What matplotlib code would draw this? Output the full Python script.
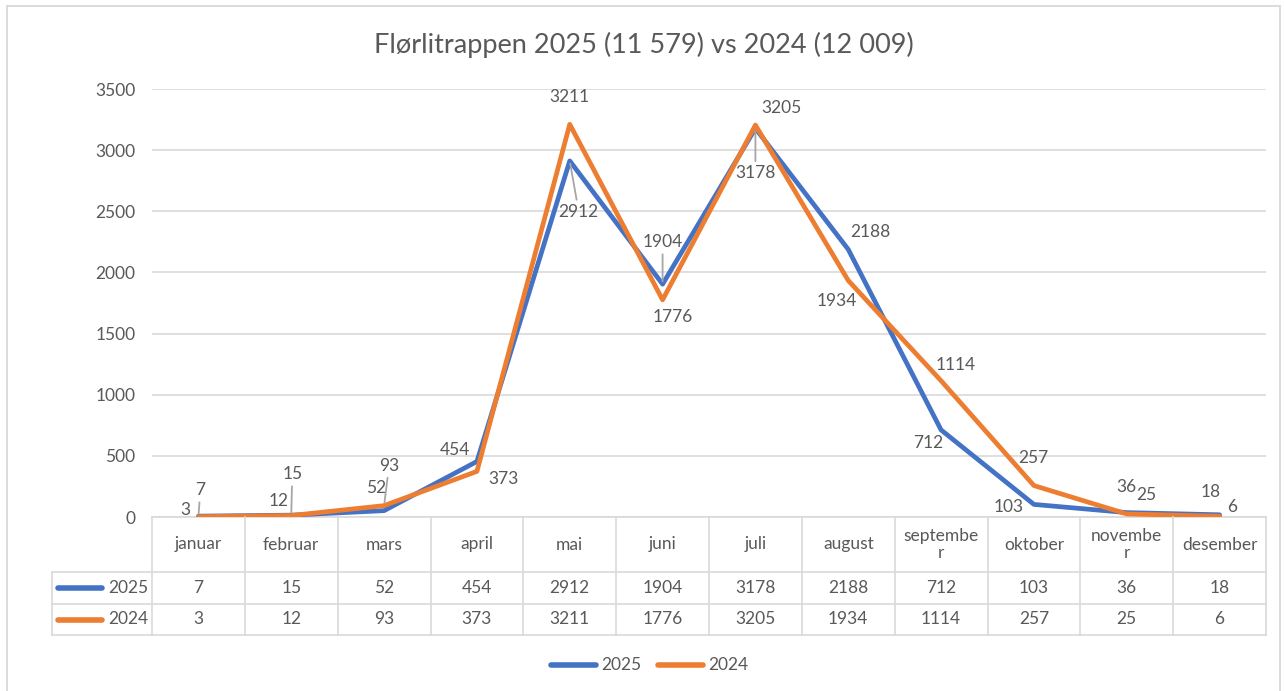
import matplotlib.pyplot as plt
from matplotlib.lines import Line2D

months = ["januar", "februar", "mars", "april", "mai", "juni", "juli",
          "august", "septembe\nr", "oktober", "novembe\nr", "desember"]
v2025 = [7, 15, 52, 454, 2912, 1904, 3178, 2188, 712, 103, 36, 18]
v2024 = [3, 12, 93, 373, 3211, 1776, 3205, 1934, 1114, 257, 25, 6]
title = "Flørlitrappen 2025 (11 579) vs 2024 (12 009)"

# label offsets in pixels (dx, dy up), and whether a leader line is drawn
off2025 = [(2, 26, True), (1, 41, True), (-8, 23, False), (-22, 11, False),
           (9, -51, True), (0, 42, True), (0, -45, True), (22, 17, False),
           (-13, -13, False), (-25, -3, False), (0, 26, False), (-9, 23, False)]
off2024 = [(-13, 7, False), (-13, 15, False), (5, 40, True), (27, -8, False),
           (0, 27, False), (10, -17, False), (26, 17, False), (-11, -21, False),
           (15, 16, False), (-1, 28, False), (20, 19, False), (13, 9, False)]

BLUE = "#4472C4"
ORANGE = "#ED7D31"
TXT = "#595959"
GRID = "#D9D9D9"
FS = 12.5

plt.rcParams["font.family"] = ["Lato", "DejaVu Sans"]

W, H = 1285, 691
fig = plt.figure(figsize=(W / 100, H / 100), dpi=100)


def fx(px):
    return px / W


def fy(py):
    return 1 - py / H


# outer frame
for xs, ys in [((7, 7), (6, H)), ((7, 1280), (6, 6)), ((1280, 1280), (6, H))]:
    fig.add_artist(Line2D([fx(x) for x in xs], [fy(y) for y in ys],
                          color=GRID, lw=1.3))

left, right, top, bottom = 152, 1266, 89, 517
ax = fig.add_axes([fx(left), fy(bottom), fx(right - left), (bottom - top) / H])
x = list(range(len(months)))
ax.plot(x, v2025, color=BLUE, lw=3.4, solid_capstyle="round", zorder=3)
ax.plot(x, v2024, color=ORANGE, lw=3.4, solid_capstyle="round", zorder=4)
ax.set_xlim(-0.5, len(months) - 0.5)
ax.set_ylim(0, 3500)
ax.set_yticks(range(0, 3501, 500))
ax.tick_params(axis="y", length=0, pad=12, labelsize=FS, labelcolor=TXT)
ax.set_xticks([])
ax.grid(axis="y", color=GRID, lw=1.2)
ax.set_axisbelow(True)
for s in ["top", "right", "left"]:
    ax.spines[s].set_visible(False)
ax.spines["bottom"].set_color(GRID)
ax.spines["bottom"].set_linewidth(1.2)

for vals, offs in [(v2025, off2025), (v2024, off2024)]:
    for i, (v, (dx, dy, lead)) in enumerate(zip(vals, offs)):
        kw = {}
        if lead:
            kw["arrowprops"] = dict(arrowstyle="-", color="#A6A6A6", lw=1.3,
                                    shrinkA=1, shrinkB=2)
        ax.annotate(str(v), (i, v), xytext=(dx, dy), textcoords="offset pixels",
                    ha="center", va="center", fontsize=FS, color=TXT,
                    annotation_clip=False, zorder=5, **kw)

fig.text(fx(644), fy(53), title, ha="center", va="baseline", fontsize=19.5,
         color=TXT)

# data table below the plot
tl, t0, t1, t2, t3 = 52, 517, 572, 604, 635
tax = fig.add_axes([fx(tl), fy(t3), fx(right - tl), (t3 - t0) / H])
tax.set_xlim(tl, right)
tax.set_ylim(t3, t0)
tax.axis("off")
colw = (right - left) / len(months)
lk = dict(color=GRID, lw=1.2, clip_on=False)
for k in range(len(months) + 1):
    cx = left + k * colw
    tax.plot([cx, cx], [t0, t3], **lk)
tax.plot([tl, tl], [t1, t3], **lk)
for yy in (t1, t2, t3):
    tax.plot([tl, right], [yy, yy], **lk)

for k, m in enumerate(months):
    cx = left + (k + 0.5) * colw
    tax.text(cx, (t0 + t1) / 2, m, ha="center", va="center", fontsize=FS,
             color=TXT, linespacing=1.15)
    tax.text(cx, (t1 + t2) / 2, str(v2025[k]), ha="center", va="center",
             fontsize=FS, color=TXT)
    tax.text(cx, (t2 + t3) / 2, str(v2024[k]), ha="center", va="center",
             fontsize=FS, color=TXT)

for (yy, col, lab) in [((t1 + t2) / 2, BLUE, "2025"), ((t2 + t3) / 2, ORANGE, "2024")]:
    tax.plot([58, 102], [yy, yy], color=col, lw=4, solid_capstyle="round")
    tax.text(148, yy, lab, ha="right", va="center", fontsize=FS, color=TXT)

# legend at bottom
ly = fy(665)
for x0, col, lab in [(551, BLUE, "2025"), (658, ORANGE, "2024")]:
    fig.add_artist(Line2D([fx(x0), fx(x0 + 45)], [ly, ly], color=col, lw=4,
                          solid_capstyle="round"))
    fig.text(fx(x0 + 50), ly, lab, ha="left", va="center", fontsize=FS,
             color=TXT)

fig.savefig("out.png", dpi=100, facecolor="white")
